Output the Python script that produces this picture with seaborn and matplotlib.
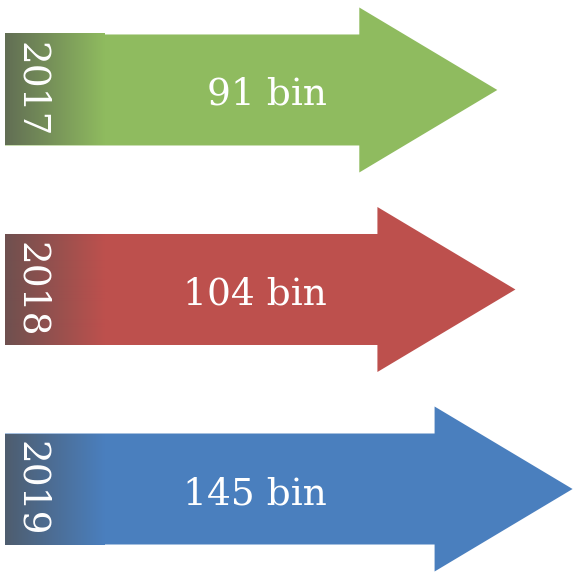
import numpy as np
import matplotlib
matplotlib.use("Agg")
import matplotlib.pyplot as plt
from matplotlib.patches import Polygon
from matplotlib.colors import to_rgb
import seaborn as sns

# ---- data ----
years = ["2017", "2018", "2019"]
values = [91, 104, 145]
labels = ["91 bin", "104 bin", "145 bin"]
colors = ["#8FBB5F", "#BD504D", "#4A7FBE"]

sns.set_theme(style="white")
plt.rcParams["font.family"] = ["DejaVu Serif"]

W, H = 573, 572
fig = plt.figure(figsize=(W / 100, H / 100), dpi=100)
ax = fig.add_axes([0, 0, 1, 1])
ax.set_axis_off()

xmin, xmax = -265.7, 145.3
ymin, ymax = 2.416, -0.451
upx = (xmax - xmin) / W          # data units per pixel (x)
vpx = (ymin - ymax) / H          # data units per pixel (y)

x0 = xmin + 5 * upx              # shaft start
head_len = 138 * upx
shaft_half = 55.5 * vpx
head_half = 82.5 * vpx
grad_len = 100 * upx
dark = np.array(to_rgb("#505050"))

for i, (yr, v, lab, c) in enumerate(zip(years, values, labels, colors)):
    base = v - head_len
    pts = [(x0, i - shaft_half), (base, i - shaft_half), (base, i - head_half),
           (v, i), (base, i + head_half), (base, i + shaft_half), (x0, i + shaft_half)]
    ax.add_patch(Polygon(pts, closed=True, facecolor=c, edgecolor="none", zorder=1))
    col = np.array(to_rgb(c))
    t = np.linspace(0, 1, 200)[:, None]
    start = 0.72 * dark + 0.28 * col
    grad = (1 - t) * start + t * col
    ax.imshow(grad[None, :, :], extent=[x0, x0 + grad_len, i + shaft_half, i - shaft_half],
              aspect="auto", interpolation="bilinear", zorder=2)
    ax.text(x0 + 322 * upx, i + 5 * vpx, lab, ha="right", va="center", color="white",
            fontsize=27, zorder=3)
    ax.text(x0 + 26 * upx, i, yr, ha="center", va="center", color="white",
            fontsize=27, rotation=-90, zorder=3)

ax.set_xlim(xmin, xmax)
ax.set_ylim(ymin, ymax)
fig.savefig("out.png", dpi=100)
